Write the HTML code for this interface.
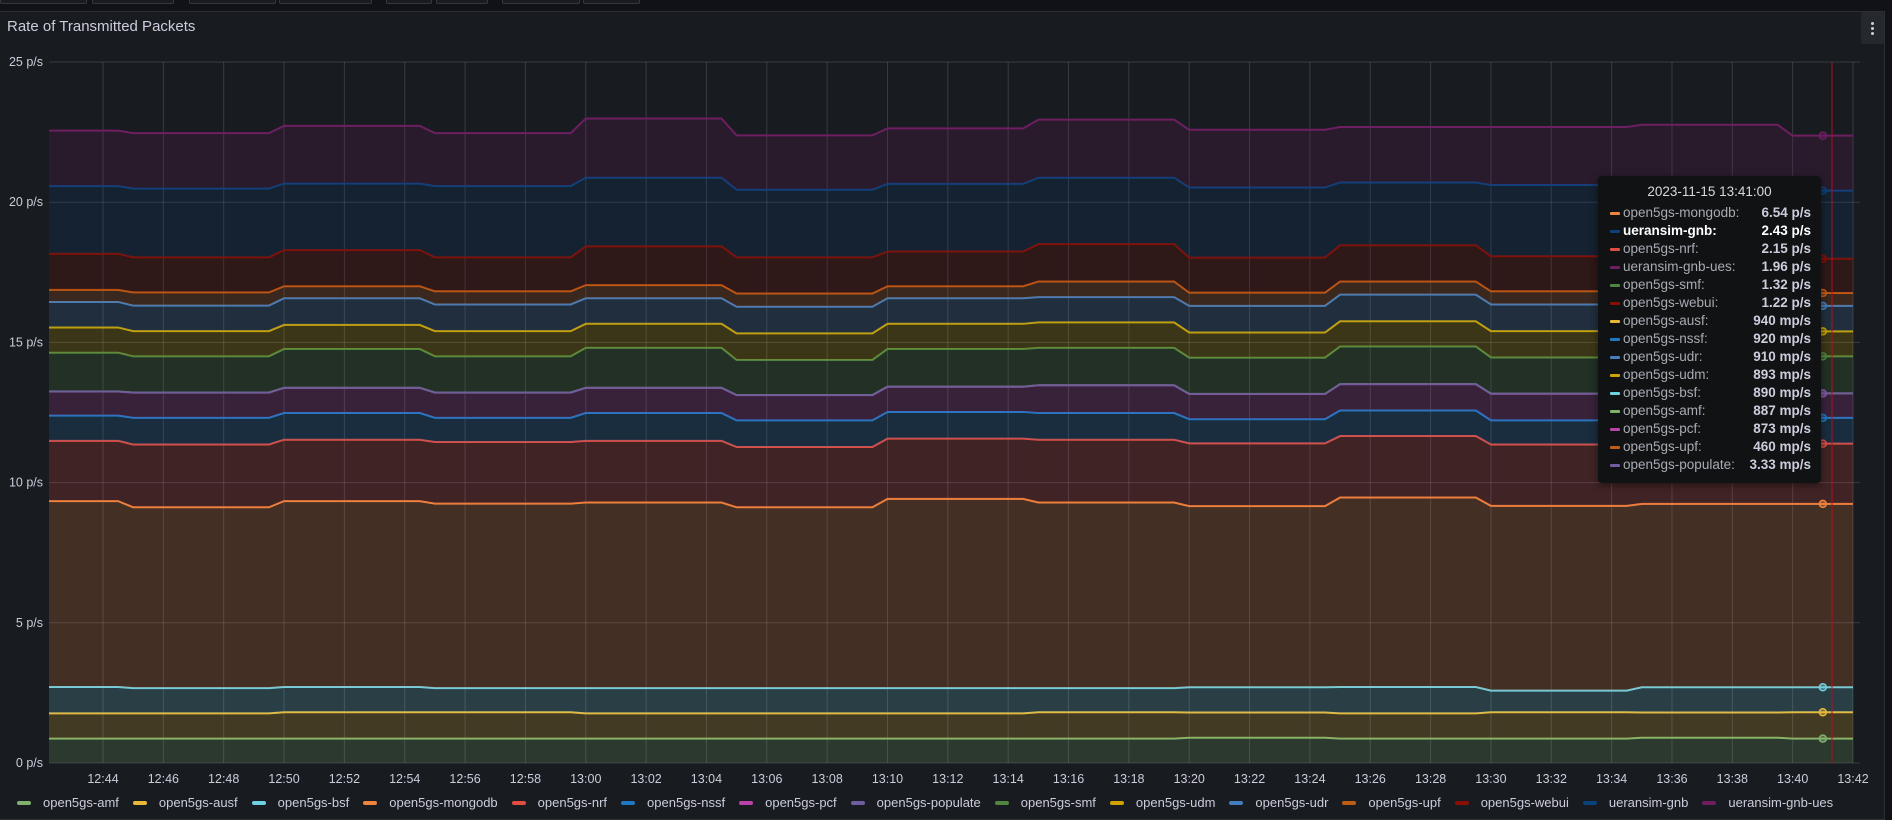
<!DOCTYPE html>
<html><head><meta charset="utf-8">
<style>
html,body{margin:0;padding:0;background:#111217;width:1892px;height:820px;overflow:hidden;font-family:"Liberation Sans",sans-serif;}
#panel{position:absolute;left:0;top:11px;width:1885px;height:809px;background:#181b1f;border:1px solid #2c2f35;border-left:none;box-sizing:border-box;}
.topbtn{position:absolute;top:-8px;height:10px;border:1px solid #34373d;border-radius:2px;background:#181b1f;}
#title{position:absolute;left:7px;top:18px;font-size:15px;color:#ccccdc;font-weight:500;}
#menu{position:absolute;left:1861px;top:12px;width:23px;height:32px;background:#25282d;border-radius:2px;}
#menu i{position:absolute;left:10px;width:3px;height:3px;border-radius:2px;background:#ccccdc;}
#tooltip{position:absolute;left:1598px;top:176px;width:223px;height:307px;background:#111214;border-radius:4px;box-shadow:0 2px 8px rgba(0,0,0,.5);font-size:13.5px;color:#ccccdc;}
#tooltip .tt-title{position:absolute;top:8px;width:100%;text-align:center;color:#d8d9e0;}
.row{position:absolute;left:12px;right:10px;height:18px;line-height:18px;}
.row .dash{position:absolute;left:0;top:8px;width:10px;height:3px;border-radius:1px;}
.row .lab{position:absolute;left:13px;color:#a9abb3;}
.row .val{position:absolute;right:0;font-weight:bold;color:#ccccdc;}
#legend{position:absolute;left:17px;top:795px;display:flex;font-size:13px;color:#ccccdc;white-space:nowrap;}
.li{display:flex;align-items:center;margin-right:14px;}
.li .d{width:14px;height:4px;border-radius:2px;margin-right:12px;}
</style></head><body>
<div class="topbtn" style="left:0;width:85px"></div>
<div class="topbtn" style="left:92px;width:80px"></div>
<div class="topbtn" style="left:189px;width:85px"></div>
<div class="topbtn" style="left:279px;width:91px"></div>
<div class="topbtn" style="left:386px;width:44px"></div>
<div class="topbtn" style="left:436px;width:50px"></div>
<div class="topbtn" style="left:502px;width:76px"></div>
<div class="topbtn" style="left:583px;width:55px"></div>
<div id="panel"></div>
<div id="title">Rate of Transmitted Packets</div>
<div id="menu"><i style="top:10px"></i><i style="top:15px"></i><i style="top:20px"></i></div>
<svg id="chart" width="1892" height="820" style="position:absolute;left:0;top:0"></svg>
<div id="tooltip">
<div class="tt-title">2023-11-15 13:41:00</div>
</div>
<div id="legend"></div>
<script>
// time in minutes after 12:00
const segStart=[42.2,45,50,55,60,65,70,75,80,85,90,95,100];
const segEnd=[44.5,49.5,54.5,59.5,64.5,69.5,74.5,79.5,84.5,89.5,94.5,99.5,102];
const tickMinutes=[44,46,48,50,52,54,56,58,60,62,64,66,68,70,72,74,76,78,80,82,84,86,88,90,92,94,96,98,100,102];
const tickLabels=["12:44","12:46","12:48","12:50","12:52","12:54","12:56","12:58","13:00","13:02","13:04","13:06","13:08","13:10","13:12","13:14","13:16","13:18","13:20","13:22","13:24","13:26","13:28","13:30","13:32","13:34","13:36","13:38","13:40","13:42"];
const yTicks=[0,5,10,15,20,25];
const yTickLabels=["0 p/s","5 p/s","10 p/s","15 p/s","20 p/s","25 p/s"];
const hoverMinute=101;
const amf=[0.87,0.87,0.87,0.87,0.87,0.87,0.87,0.87,0.9,0.87,0.87,0.9,0.87];
const ausf=[0.9,0.9,0.94,0.94,0.9,0.9,0.9,0.94,0.9,0.9,0.94,0.9,0.94];
const bsf=[0.94,0.9,0.9,0.86,0.9,0.9,0.9,0.86,0.9,0.94,0.77,0.9,0.89];
const mongodb=[6.63,6.45,6.63,6.58,6.62,6.45,6.75,6.62,6.46,6.76,6.59,6.54,6.54];
const nrf=[2.15,2.24,2.19,2.2,2.2,2.15,2.15,2.24,2.24,2.19,2.19,2.07,2.15];
const nssf=[0.9,0.95,0.95,0.86,0.99,0.95,0.95,0.95,0.86,0.91,0.86,1.03,0.92];
const pcf=[0.86,0.9,0.9,0.9,0.9,0.9,0.9,0.99,0.9,0.94,0.95,0.95,0.87];
const populate=[0.003,0.003,0.003,0.003,0.003,0.003,0.003,0.003,0.003,0.003,0.003,0.003,0.003];
const smf=[1.38,1.29,1.38,1.29,1.42,1.25,1.34,1.33,1.29,1.34,1.29,1.33,1.32];
const udm=[0.9,0.9,0.86,0.9,0.86,0.95,0.9,0.91,0.9,0.9,0.94,0.91,0.89];
const udr=[0.91,0.91,0.95,0.95,0.91,0.95,0.91,0.9,0.95,0.95,0.95,0.94,0.91];
const upf=[0.43,0.47,0.43,0.47,0.47,0.47,0.43,0.56,0.47,0.47,0.47,0.46,0.46];
const webui=[1.29,1.25,1.29,1.21,1.38,1.29,1.24,1.33,1.25,1.29,1.25,1.35,1.22];
const gnb=[2.41,2.45,2.37,2.54,2.45,2.41,2.41,2.37,2.5,2.24,2.54,2.41,2.43];
const gnbUes=[1.98,1.98,2.06,1.89,2.11,1.94,1.98,2.07,2.06,1.98,2.07,2.07,1.96];

const series=[
 {name:"open5gs-amf",v:amf,c:"#7EB26D"},
 {name:"open5gs-ausf",v:ausf,c:"#EAB839"},
 {name:"open5gs-bsf",v:bsf,c:"#6ED0E0"},
 {name:"open5gs-mongodb",v:mongodb,c:"#EF843C"},
 {name:"open5gs-nrf",v:nrf,c:"#E24D42"},
 {name:"open5gs-nssf",v:nssf,c:"#1F78C1"},
 {name:"open5gs-pcf",v:pcf,c:"#BA43A9"},
 {name:"open5gs-populate",v:populate,c:"#705DA0"},
 {name:"open5gs-smf",v:smf,c:"#508642"},
 {name:"open5gs-udm",v:udm,c:"#CCA300"},
 {name:"open5gs-udr",v:udr,c:"#447EBC"},
 {name:"open5gs-upf",v:upf,c:"#C15C17"},
 {name:"open5gs-webui",v:webui,c:"#890F02"},
 {name:"ueransim-gnb",v:gnb,c:"#0A437C"},
 {name:"ueransim-gnb-ues",v:gnbUes,c:"#6D1F62"}
];
const L=49,R=1853,T=62,B=763;
const xS=m=>103+(m-44)*(1853-103)/58;
const yS=v=>B-(v/25)*(B-T);
const NS="http://www.w3.org/2000/svg";
const svg=document.getElementById('chart');
function mk(tag,attrs,parent){const e=document.createElementNS(NS,tag);for(const k in attrs)e.setAttribute(k,attrs[k]);(parent||svg).appendChild(e);return e;}
const defs=mk('defs',{});
const cp=mk('clipPath',{id:'plotclip'},defs);
mk('rect',{x:L,y:0,width:R-L,height:820},cp);
yTicks.forEach((t,i)=>{
 const g=mk('line',{x1:L,x2:1860,y1:yS(t),y2:yS(t),stroke:'rgba(204,204,220,0.18)','stroke-width':1});
 
 
 const tx=mk('text',{x:43,y:yS(t)+4,'text-anchor':'end','font-size':12.5,fill:'#ccccdc','font-family':'Liberation Sans, sans-serif'});
 tx.textContent=yTickLabels[i];
 
 
});
tickMinutes.forEach((m,i)=>{
 const g=mk('line',{x1:xS(m),x2:xS(m),y1:T,y2:B,stroke:'rgba(204,204,220,0.18)','stroke-width':1});
 
 
 const tx=mk('text',{x:xS(m),y:783,'text-anchor':'middle','font-size':12.5,fill:'#ccccdc','font-family':'Liberation Sans, sans-serif'});
 tx.textContent=tickLabels[i];
 
 
});
const n=segStart.length;
let base=new Array(n).fill(0);
const plotG=mk('g',{'clip-path':'url(#plotclip)'});
const tops=[];
series.forEach(s=>{
 const top=base.map((b,i)=>b+s.v[i]);
 const pts=[],bpts=[];
 for(let i=0;i<n;i++){pts.push([xS(segStart[i]),yS(top[i])]);pts.push([xS(segEnd[i]),yS(top[i])]);
  bpts.push([xS(segStart[i]),yS(base[i])]);bpts.push([xS(segEnd[i]),yS(base[i])]);}
 pts[0][0]=L-2;bpts[0][0]=L-2;
 const area=pts.map(p=>p.join(',')).concat(bpts.slice().reverse().map(p=>p.join(','))).join(' ');
 const a=mk('polygon',{points:area,fill:s.c,'fill-opacity':0.2},plotG);
 
 
 const l=mk('polyline',{points:pts.map(p=>p.join(',')).join(' '),fill:'none',stroke:s.c,'stroke-width':2},plotG);
 
 
 tops.push({s:s,top:top});
 base=top;
});
const hl=mk('line',{x1:1832,x2:1832,y1:T,y2:B,stroke:'#b0101e','stroke-width':1});


tops.forEach(t=>{
 const c=mk('circle',{cx:xS(hoverMinute),cy:yS(t.top[n-1]),r:3.5,fill:t.s.c,'fill-opacity':0.4,stroke:t.s.c,'stroke-width':1.5});
 
 
});
const lg=document.getElementById('legend');
series.forEach(s=>{
 const it=document.createElement('div');it.className='li';
 
 
 it.innerHTML='<span class="d" style="background:'+s.c+'"></span><span>'+s.name+'</span>';
 lg.appendChild(it);
});
const ttNames=["open5gs-mongodb","ueransim-gnb","open5gs-nrf","ueransim-gnb-ues","open5gs-smf","open5gs-webui","open5gs-ausf","open5gs-nssf","open5gs-udr","open5gs-udm","open5gs-bsf","open5gs-amf","open5gs-pcf","open5gs-upf","open5gs-populate"];
const ttVals=["6.54 p/s","2.43 p/s","2.15 p/s","1.96 p/s","1.32 p/s","1.22 p/s","940 mp/s","920 mp/s","910 mp/s","893 mp/s","890 mp/s","887 mp/s","873 mp/s","460 mp/s","3.33 mp/s"];
const tt=document.getElementById('tooltip');
ttNames.forEach((nm,i)=>{
 const s=series.find(x=>x.name===nm);
 const r=document.createElement('div');r.className='row';r.style.top=(28+i*18)+'px';
 
 
 const hi=nm==="ueransim-gnb";
 r.innerHTML='<span class="dash" style="background:'+s.c+'"></span><span class="lab" style="'+(hi?'color:#fff;font-weight:bold':'')+'">'+nm+':</span><span class="val" style="'+(hi?'color:#fff':'')+'">'+ttVals[i]+'</span>';
 tt.appendChild(r);
});
</script>
</body></html>
